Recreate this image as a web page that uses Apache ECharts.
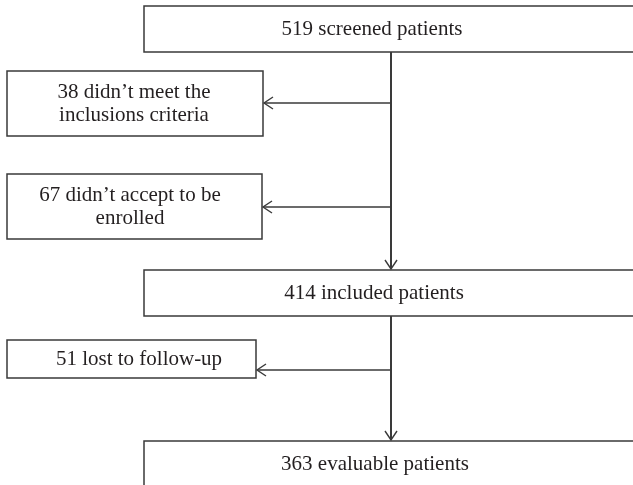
<!DOCTYPE html>
<html>
<head>
<meta charset="utf-8">
<script src="https://cdn.jsdelivr.net/npm/echarts@6/dist/echarts.min.js"></script>
<style>html,body{margin:0;padding:0;background:#fff;}#c{width:633px;height:485px;}</style>
</head>
<body>
<div id="c"></div>
<script>
// Flowchart content
const boxLabels = ['519 screened patients', '38 didn’t meet the\ninclusions criteria', '67 didn’t accept to be\nenrolled', '414 included patients', '51 lost to follow-up', '363 evaluable patients'];
const boxX0 = [144, 7, 7, 144, 7, 144];
const boxX1 = [660, 263, 262, 660, 256, 660];
const boxY0 = [6, 71, 174, 270, 340, 441];
const boxY1 = [52, 136, 239, 316, 378, 520];
const labelX = [372, 134, 130, 374, 139, 375];
const labelY = [29, 104, 207, 293, 359, 464];

// Connectors: [x1, y1, x2, y2], arrow at (x2, y2)
const trunkEdges = [[391, 52, 391, 269], [391, 316, 391, 440]];
const branchEdges = [[391, 103, 264, 103], [391, 207, 263, 207], [391, 370, 257, 370]];

const chart = echarts.init(document.getElementById('c'), null, {renderer: 'canvas'});
const lineColor = '#3a3a3a';
const fontFam = '"Liberation Serif", "DejaVu Serif", serif';

function edgeRender(width) {
  return function (params, api) {
    const p1 = api.coord([api.value(0), api.value(1)]);
    const p2 = api.coord([api.value(2), api.value(3)]);
    const dx = p2[0] - p1[0], dy = p2[1] - p1[1];
    const len = Math.sqrt(dx * dx + dy * dy);
    const ux = dx / len, uy = dy / len;
    const L = 9, W = 6;
    const bx = p2[0] - ux * L, by = p2[1] - uy * L;
    const nx = -uy, ny = ux;
    return {
      type: 'group',
      children: [
        {type: 'line', shape: {x1: p1[0], y1: p1[1], x2: p2[0], y2: p2[1]}, style: {stroke: lineColor, lineWidth: width}},
        {type: 'polyline', shape: {points: [[bx + nx * W, by + ny * W], p2, [bx - nx * W, by - ny * W]]}, style: {stroke: lineColor, lineWidth: 1.4, fill: null}}
      ]
    };
  };
}

const boxData = boxLabels.map((t, i) => [boxX0[i], boxY0[i], boxX1[i], boxY1[i], labelX[i], labelY[i], t]);

chart.setOption({
  animation: false,
  backgroundColor: '#fff',
  grid: {left: 0, right: 0, top: 0, bottom: 0},
  xAxis: {type: 'value', min: 0, max: 633, show: false},
  yAxis: {type: 'value', min: 0, max: 485, inverse: true, show: false},
  series: [
    {
      type: 'custom',
      coordinateSystem: 'cartesian2d',
      clip: true,
      data: boxData,
      renderItem: function (params, api) {
        const a = api.coord([api.value(0), api.value(1)]);
        const b = api.coord([api.value(2), api.value(3)]);
        const c = api.coord([api.value(4), api.value(5)]);
        return {
          type: 'group',
          children: [
            {type: 'rect', shape: {x: a[0], y: a[1], width: b[0] - a[0], height: b[1] - a[1]}, style: {fill: null, stroke: lineColor, lineWidth: 1.5}},
            {type: 'text', x: c[0], y: c[1], style: {text: boxData[params.dataIndex][6], fill: '#231f20', font: '21px ' + fontFam, align: 'center', verticalAlign: 'middle', lineHeight: 23}}
          ]
        };
      }
    },
    {
      type: 'custom',
      coordinateSystem: 'cartesian2d',
      data: trunkEdges,
      renderItem: edgeRender(2)
    },
    {
      type: 'custom',
      coordinateSystem: 'cartesian2d',
      data: branchEdges,
      renderItem: edgeRender(1.4)
    }
  ]
});
</script>
</body>
</html>
